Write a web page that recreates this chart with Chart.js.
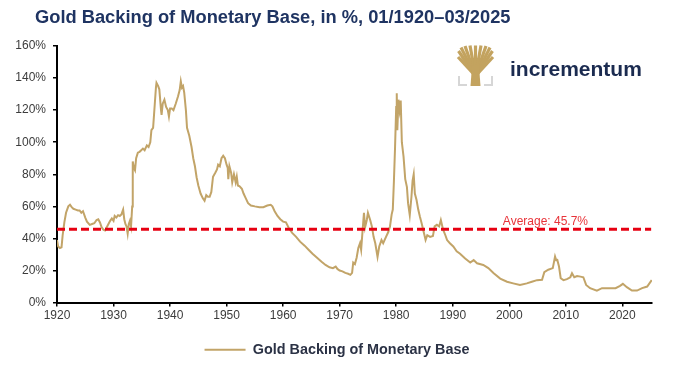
<!DOCTYPE html>
<html><head><meta charset="utf-8">
<script src="https://cdn.jsdelivr.net/npm/chart.js@4"></script>
<style>html,body{margin:0;padding:0;background:#fff}#wrap{width:700px;height:370px;position:relative}</style>
</head><body><div id="wrap"><canvas id="c" width="700" height="370"></canvas></div>
<script>
const TITLE = "Gold Backing of Monetary Base, in %, 01/1920–03/2025";
const SERIES_NAME = "Gold Backing of Monetary Base";
const BRAND = "incrementum";
const years = [
1920.0,1920.2,1920.5,1920.8,1921.0,1921.3,1921.6,1922.0,1922.3,1922.6,1922.9,1923.3,1923.7,1924.0,1924.3,1924.6,
1925.0,1925.3,1925.8,1926.2,1926.6,1927.0,1927.3,1927.6,1927.9,1928.2,1928.5,1928.8,1929.1,1929.4,1929.7,
1930.0,1930.2,1930.5,1930.8,1931.1,1931.4,1931.7,1931.9,1932.1,1932.3,1932.5,1932.7,1932.9,1933.1,1933.3,1933.4,
1933.6,1933.8,1934.0,1934.3,1934.6,1934.9,1935.2,1935.5,1935.9,1936.2,1936.5,1936.7,1937.0,1937.3,1937.5,1937.6,
1937.9,1938.1,1938.4,1938.5,1938.7,1939.0,1939.3,1939.6,1939.8,1940.0,1940.3,1940.6,1941.0,1941.4,1941.7,1941.9,
1942.1,1942.3,1942.5,1942.8,1943.0,1943.4,1943.8,1944.1,1944.4,1944.7,1945.0,1945.4,1945.8,1946.1,1946.4,1946.7,
1947.0,1947.3,1947.6,1948.0,1948.3,1948.5,1948.8,1949.1,1949.4,1949.7,1950.0,1950.2,1950.3,1950.5,1950.8,1951.0,
1951.3,1951.6,1951.8,1952.0,1952.3,1952.7,1953.0,1953.4,1953.8,1954.3,1955.0,1955.8,1956.5,1957.2,1957.8,1958.1,
1958.5,1959.0,1959.5,1960.0,1960.5,1961.0,1961.6,1962.3,1963.0,1963.8,1964.5,1965.2,1966.0,1966.8,1967.5,1968.2,
1968.8,1969.3,1969.6,1970.0,1970.5,1971.0,1971.5,1971.9,1972.2,1972.4,1972.7,1973.0,1973.3,1973.6,1973.8,1974.1,
1974.3,1974.5,1974.8,1975.0,1975.4,1975.7,1976.0,1976.3,1976.7,1977.0,1977.4,1977.7,1978.2,1978.6,1978.9,1979.2,
1979.4,1979.6,1979.8,1980.0,1980.1,1980.2,1980.4,1980.6,1980.8,1981.0,1981.3,1981.6,1981.9,1982.1,1982.4,1982.7,
1982.9,1983.1,1983.3,1983.6,1983.9,1984.2,1984.5,1984.9,1985.2,1985.5,1986.0,1986.5,1986.8,1987.2,1987.6,1987.9,
1988.3,1988.7,1989.0,1989.5,1990.1,1990.7,1991.3,1992.2,1993.1,1993.7,1994.3,1995.4,1996.3,1997.2,1998.4,1999.6,
2000.7,2001.9,2003.1,2004.0,2004.9,2005.8,2006.2,2006.9,2007.7,2008.1,2008.3,2008.5,2008.8,2009.1,2009.6,2010.2,
2010.8,2011.1,2011.5,2012.0,2012.6,2013.1,2013.6,2014.3,2015.5,2016.4,2017.6,2018.8,2019.6,2020.1,2020.8,2021.7,
2022.6,2023.5,2024.4,2025.2];
const backing = [
39,35,34,34.5,42,50,56,60,61,59.5,58.5,58,57.5,57.5,56,57,
53,50.5,48.5,49,49.5,51.5,52,50,47,45.5,45,47,49,51,52.5,
51,54,53,54.5,54,55,58,52,49,47.5,43,49,51,47.5,60,88,
84,82.5,90,93.5,94,95,96,95,98,97,100,107.5,109,124,134,137,
135,133,120,117,124,126.5,122,120,116,121,121,120,124,128.5,132.5,138,
134,135,131,120,109,104,97,90,85,78,73,68,65,63.5,67,66,
66,69,78.5,81,83,86,85,90,91.5,90,86,84,77,85,81,75,
80,75,78.5,73,72.5,71,68,65,62,60.5,60,59.5,59.5,60.5,61,60,
57,54,52,50.5,50,46.5,43.5,41,38,35.5,33,30.5,28,25.5,23.5,22,
21.5,22.5,21,20,19.5,18.5,18,17.3,18.5,25,24,28,34,37,33,47,
56,47,51.5,56,51.5,47.5,41,37,28.5,35,39,37,41,44,47.5,55,
58,76,97,122,130.5,107.5,126.5,120,126,100,91,77,72,62,54.5,66,
76,80,68,64,58,53.5,49.5,43.5,39,42,41,41.5,47.5,48.5,47.5,51.5,
45.5,42,39,37,35,32,30.5,27.5,25,26.5,24.5,23.5,21.5,18.5,15,13,
12,11,12,13,14,14.2,19,20.5,21.5,28.7,26.5,26.6,22.5,15.2,14,14.6,
15.8,18.3,15.8,16.6,16.2,15.8,11,9,7.5,9,9,9,10.4,11.7,9.6,7.5,
7.5,9,10,14];
const AVERAGE = 45.7;
const AVERAGE_LABEL = "Average: 45.7%";
const AVERAGE_SPAN = [1920, 2025.1];
const AVERAGE_LABEL_YEAR = 2006.4;
const xTickValues = [1920,1930,1940,1950,1960,1970,1980,1990,2000,2010,2020];
const yTickValues = [0,20,40,60,80,100,120,140,160];

const GOLD = '#c2a468';
const NAVY = '#1f3462';
const FONT = '"Liberation Sans", Arial, sans-serif';

const decor = {
  id: 'decor',
  afterDraw(chart) {
    const ctx = chart.ctx;
    const xs = chart.scales.x, ys = chart.scales.y;
    ctx.save();
    // title
    ctx.fillStyle = NAVY;
    ctx.font = 'bold 18.3px ' + FONT;
    ctx.textAlign = 'left';
    ctx.textBaseline = 'alphabetic';
    ctx.fillText(TITLE, 35, 23);
    // average label
    ctx.fillStyle = '#e8343a';
    ctx.font = '12px ' + FONT;
    ctx.textAlign = 'center';
    ctx.fillText(AVERAGE_LABEL, xs.getPixelForValue(AVERAGE_LABEL_YEAR), ys.getPixelForValue(AVERAGE) - 4.5);
    // logo: tree
    const lg = '#c3a35f';
    ctx.fillStyle = lg;
    ctx.beginPath(); ctx.moveTo(475.5, 74); ctx.lineTo(461, 58); ctx.lineTo(490, 58); ctx.closePath(); ctx.fill();
    ctx.strokeStyle = lg;
    ctx.lineWidth = 3.2;
    const bx = 475.5, by = 76;
    const tips = [[458,57],[458.5,51],[461,47.5],[465,46],[470,45.5],[475.5,45.5],[481,45.5],[486,46],[490,47.5],[492.5,51],[493,57]];
    tips.forEach(([x,y]) => { ctx.beginPath(); ctx.moveTo(bx, by); ctx.lineTo(x, y); ctx.stroke(); });
    ctx.beginPath(); ctx.moveTo(470.5,86); ctx.lineTo(480.5,86); ctx.lineTo(479,66); ctx.lineTo(472,66); ctx.closePath(); ctx.fill();
    ctx.strokeStyle = '#d6d6d6'; ctx.lineWidth = 2;
    ctx.beginPath(); ctx.moveTo(459,76); ctx.lineTo(459,85); ctx.lineTo(467,85); ctx.stroke();
    ctx.beginPath(); ctx.moveTo(492,76); ctx.lineTo(492,85); ctx.lineTo(484,85); ctx.stroke();
    // logo text
    ctx.fillStyle = '#1b2b50';
    ctx.font = 'bold 21px ' + FONT;
    ctx.textAlign = 'left';
    ctx.fillText(BRAND, 510, 76);
    ctx.restore();
  }
};

new Chart(document.getElementById('c'), {
  type: 'line',
  data: {
    datasets: [
      {
        label: SERIES_NAME,
        data: years.map((x, i) => ({x, y: backing[i]})),
        borderColor: GOLD, backgroundColor: GOLD,
        borderWidth: 2, pointRadius: 0, tension: 0, order: 1
      },
      {
        label: 'Average',
        data: AVERAGE_SPAN.map(x => ({x, y: AVERAGE})),
        borderColor: '#e60012', borderWidth: 3, borderDash: [8, 4],
        pointRadius: 0, order: 0
      }
    ]
  },
  options: {
    responsive: false,
    animation: false,
    devicePixelRatio: 1,
    layout: { padding: { left: 11, right: 37, top: 46, bottom: 3 } },
    plugins: {
      tooltip: { enabled: false },
      title: { display: false },
      legend: {
        display: true,
        position: 'bottom',
        labels: {
          usePointStyle: true,
          pointStyle: 'line',
          pointStyleWidth: 41,
          padding: 10,
          color: '#2b3245',
          font: { family: FONT, size: 14.4, weight: 'bold' },
          filter: item => item.datasetIndex === 0
        }
      }
    },
    scales: {
      x: {
        type: 'linear', min: 1920, max: 2025.25,
        afterBuildTicks: s => { s.ticks = xTickValues.map(v => ({value: v})); },
        afterFit: s => { s.height = 30; },
        grid: { drawOnChartArea: false, drawTicks: true, tickLength: 4, color: '#000', lineWidth: 1.5 },
        border: { display: true, color: '#000', width: 2 },
        ticks: { color: '#3c3c3c', padding: 2, maxRotation: 0, autoSkip: false,
                 font: { family: FONT, size: 12 }, callback: v => String(v) }
      },
      y: {
        min: 0, max: 160,
        afterBuildTicks: s => { s.ticks = yTickValues.map(v => ({value: v})); },
        afterFit: s => { s.width = 46; },
        grid: { drawOnChartArea: false, drawTicks: true, tickLength: 4, color: '#000', lineWidth: 1.5 },
        border: { display: true, color: '#000', width: 2 },
        ticks: { color: '#3c3c3c', padding: 7, font: { family: FONT, size: 12 }, callback: v => v + '%' }
      },
      yRightSpacer: {
        type: 'linear', position: 'right', display: true,
        afterFit: s => { s.width = 11; },
        grid: { display: false, drawTicks: false },
        border: { display: false },
        ticks: { display: false }
      }
    }
  },
  plugins: [decor]
});
</script>
</body></html>
